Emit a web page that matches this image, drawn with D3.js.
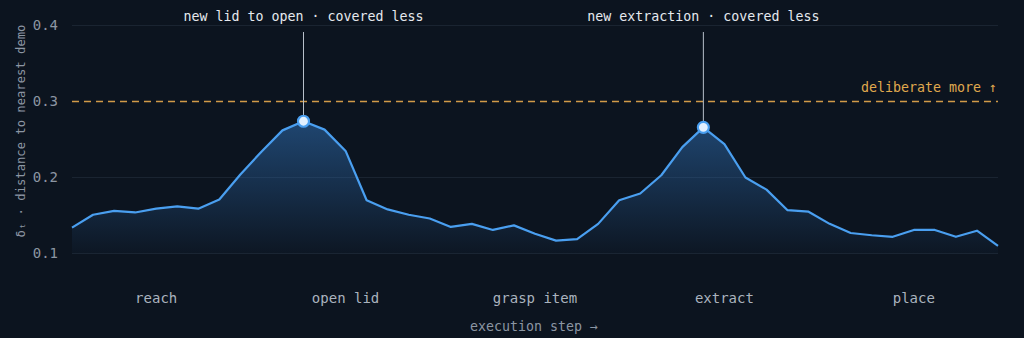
<!DOCTYPE html>
<html><head><meta charset="utf-8">
<script src="https://cdn.jsdelivr.net/npm/d3@7"></script>
<style>
html,body{margin:0;padding:0;background:#0c141f;}
svg{display:block;}
text{font-family:"DejaVu Sans Mono","Liberation Mono",monospace;}
</style></head>
<body><svg id="c" width="1024" height="338"></svg>
<script>
const steps = d3.range(45);
const delta = [0.134,0.151,0.156,0.154,0.159,0.162,0.159,0.171,0.204,0.234,0.262,0.274,0.263,0.235,0.170,
  0.158,0.151,0.146,0.135,0.139,0.131,0.137,0.126,0.117,0.119,0.139,0.170,0.179,0.203,0.240,
  0.266,0.244,0.200,0.184,0.157,0.155,0.139,0.127,0.124,0.122,0.131,0.131,0.122,0.130,0.110];
const phases = ["reach","open lid","grasp item","extract","place"];
const phaseSteps = [4,13,22,31,40];
const yTicks = [0.1,0.2,0.3,0.4];
const threshold = 0.3;
const thresholdLabel = "deliberate more ↑";
const annotations = [
  {step:11, text:"new lid to open · covered less"},
  {step:30, text:"new extraction · covered less"}
];
const yTitle = "δₜ · distance to nearest demo";
const xTitle = "execution step →";

const svg = d3.select("#c");
const x = d3.scaleLinear().domain([0,44]).range([72,998]);
const y = d3.scaleLinear().domain([0.1,0.4]).range([253.5,25.5]);

// grid
svg.append("g").selectAll("line").data(yTicks.filter(t=>t!==threshold)).join("line")
  .attr("x1",72).attr("x2",998).attr("y1",d=>y(d)).attr("y2",d=>y(d))
  .attr("stroke","#1a2431").attr("stroke-width",1);

// y tick labels
svg.append("g").selectAll("text").data(yTicks).join("text")
  .attr("x",58).attr("y",d=>y(d)).attr("dy","0.35em").attr("text-anchor","end")
  .attr("fill","#8c96a3").attr("font-size",14).text(d=>d.toFixed(1));

// y title
svg.append("text").attr("transform","translate(21,131) rotate(-90)")
  .attr("text-anchor","middle").attr("dy","0.35em").attr("fill","#8c96a3").attr("font-size",12.2)
  .text(yTitle);

// gradient
const defs = svg.append("defs");
const g = defs.append("linearGradient").attr("id","fillg").attr("gradientUnits","userSpaceOnUse")
  .attr("x1",0).attr("x2",0).attr("y1",y(0.275)).attr("y2",y(0.1));
g.append("stop").attr("offset","0%").attr("stop-color","#2f6fb4").attr("stop-opacity",0.55);
g.append("stop").attr("offset","100%").attr("stop-color","#2f6fb4").attr("stop-opacity",0.03);

const data = steps.map((s,i)=>({s, v:delta[i]}));
svg.append("path").datum(data)
  .attr("d", d3.area().x(d=>x(d.s)).y0(y(0.1)).y1(d=>y(d.v)))
  .attr("fill","url(#fillg)");

// threshold
svg.append("line").attr("x1",72).attr("x2",998).attr("y1",y(threshold)).attr("y2",y(threshold))
  .attr("stroke","#d19a48").attr("stroke-width",1.5).attr("stroke-dasharray","7,5");
svg.append("text").attr("x",997).attr("y",y(threshold)-14).attr("dy","0.35em").attr("text-anchor","end")
  .attr("fill","#e0a94e").attr("font-size",13.3).text(thresholdLabel);

// line
svg.append("path").datum(data)
  .attr("d", d3.line().x(d=>x(d.s)).y(d=>y(d.v)))
  .attr("fill","none").attr("stroke","#4a9ff0").attr("stroke-width",2.2).attr("stroke-linejoin","round");

// annotations
const an = svg.append("g").selectAll("g").data(annotations).join("g");
an.append("line").attr("x1",d=>x(d.step)).attr("x2",d=>x(d.step))
  .attr("y1",32).attr("y2",d=>y(delta[d.step]))
  .attr("stroke","#b8c0ca").attr("stroke-width",1);
an.append("circle").attr("cx",d=>x(d.step)).attr("cy",d=>y(delta[d.step])).attr("r",5.5)
  .attr("fill","#e2f0ff").attr("stroke","#4a9ff0").attr("stroke-width",2.2);
an.append("text").attr("x",d=>x(d.step)).attr("y",16).attr("dy","0.35em").attr("text-anchor","middle")
  .attr("fill","#e6e9ee").attr("font-size",13.3).text(d=>d.text);

// phase labels
svg.append("g").selectAll("text").data(phases).join("text")
  .attr("x",(d,i)=>x(phaseSteps[i])).attr("y",298).attr("dy","0.35em").attr("text-anchor","middle")
  .attr("fill","#aab3be").attr("font-size",14).text(d=>d);

svg.append("text").attr("x",534).attr("y",326).attr("dy","0.35em").attr("text-anchor","middle")
  .attr("fill","#8c96a3").attr("font-size",13.3).text(xTitle);
</script></body></html>
